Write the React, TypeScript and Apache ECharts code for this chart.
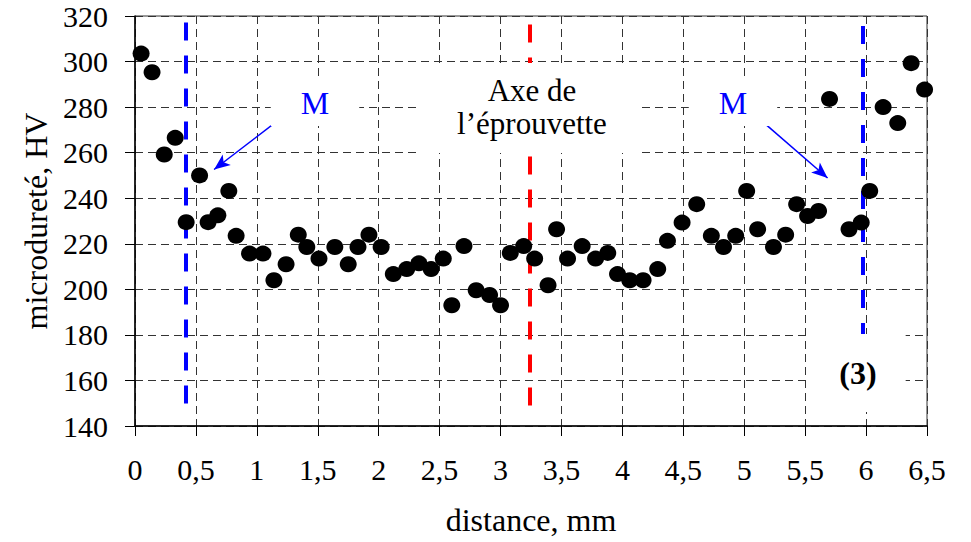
import React, { useEffect, useRef } from "react";
import * as echarts from "echarts";

// distance (mm) of each indentation
const distance = [
  0.05, 0.14, 0.24, 0.33, 0.42, 0.53, 0.6, 0.68, 0.77, 0.83, 0.94, 1.05, 1.14,
  1.24, 1.34, 1.41, 1.51, 1.64, 1.75, 1.83, 1.92, 2.02, 2.12, 2.23, 2.33, 2.43,
  2.53, 2.6, 2.7, 2.8, 2.91, 3.0, 3.08, 3.19, 3.28, 3.39, 3.46, 3.55, 3.67, 3.78,
  3.88, 3.96, 4.06, 4.17, 4.29, 4.37, 4.49, 4.61, 4.73, 4.83, 4.93, 5.02, 5.11,
  5.24, 5.34, 5.43, 5.52, 5.61, 5.7, 5.86, 5.96, 6.03, 6.14, 6.26, 6.37, 6.48,
];
// microhardness (HV)
const hardness = [
  303.5, 295.3, 259.2, 266.5, 229.5, 250, 229.5, 232.5, 243.2, 223.5, 215.7,
  215.7, 204, 211, 224, 218.6, 213.5, 218.6, 211, 218.6, 224, 218.6, 206.7,
  208.9, 211.4, 208.9, 213.5, 193, 219, 199.6, 197.5, 193, 216, 219, 213.5,
  201.8, 226.4, 213.5, 219, 213.5, 216, 206.7, 204, 204, 208.9, 221.3, 229.3,
  237.4, 223.5, 218.6, 223.5, 243.2, 226.4, 218.6, 224, 237.4, 232.2, 234.4,
  283.6, 226.4, 229.3, 243.2, 280, 273, 299.3, 287.7,
];

// annotation positions (data units)
const mLeft = 0.42;
const specimenAxis = 3.24;
const mRight = 5.97;
const dashBottom = 143.5;
const arrowLeft = [[1.207, 275.5], [0.649, 252.6]];
const arrowRight = [[5.186, 272], [5.684, 248.9]];

const FONT = "Liberation Serif, Times New Roman, serif";

export default function App() {
  const ref = useRef<HTMLDivElement>(null);
  useEffect(() => {
    const chart = echarts.init(ref.current!, null, { renderer: "svg" });
    const data = distance.map((d, i) => [d, hardness[i]]);
    const vLine = (x: number, color: string, top: number) => [
      {
        coord: [x, top],
        symbol: "none",
        lineStyle: { color, width: 4, type: [18, 15] },
      },
      { coord: [x, dashBottom], symbol: "none" },
    ];
    const arrow = (pts: number[][]) => [
      {
        coord: pts[0],
        symbol: "none",
        lineStyle: { color: "#0000ff", width: 1.5, type: "solid" },
      },
      { coord: pts[1], symbol: "arrow", symbolSize: [10, 16] },
    ];
    const tickStyle = { fontFamily: FONT, fontSize: 30, color: "#000" };
    const nameStyle = { fontFamily: FONT, fontSize: 32, color: "#000" };
    const txt = (
      text: string,
      x: number,
      y: number,
      font: string,
      fill: string,
      padding?: number[]
    ) => ({
      type: "text",
      z: 100,
      style: {
        text,
        x,
        y,
        align: "center",
        verticalAlign: "middle",
        font,
        fill,
        ...(padding ? { backgroundColor: "#fff", padding } : {}),
      },
    });
    chart.setOption({
      animation: false,
      grid: {
        left: 135,
        right: 44,
        top: 16,
        bottom: 116,
        show: true,
        borderColor: "#333",
        borderWidth: 1,
      },
      xAxis: {
        type: "value",
        min: 0,
        max: 6.5,
        interval: 0.5,
        name: "distance, mm",
        nameLocation: "middle",
        nameGap: 78,
        nameTextStyle: nameStyle,
        axisLine: { onZero: false, lineStyle: { color: "#000", width: 1.5 } },
        axisTick: { show: true, length: 10, lineStyle: { color: "#000" } },
        axisLabel: {
          ...tickStyle,
          margin: 28,
          formatter: (v: number) => String(v).replace(".", ","),
        },
        splitLine: {
          show: true,
          lineStyle: { type: [8, 5], color: "#333", width: 1 },
        },
      },
      yAxis: {
        type: "value",
        min: 140,
        max: 320,
        interval: 20,
        name: "microdureté, HV",
        nameLocation: "middle",
        nameGap: 82,
        nameTextStyle: nameStyle,
        axisLine: { onZero: false, lineStyle: { color: "#000", width: 1.5 } },
        axisTick: { show: true, length: 10, lineStyle: { color: "#000" } },
        axisLabel: { ...tickStyle, margin: 27 },
        splitLine: {
          show: true,
          lineStyle: { type: [8, 5], color: "#333", width: 1 },
        },
      },
      series: [
        {
          type: "scatter",
          data,
          symbol: "circle",
          symbolSize: [17, 16],
          itemStyle: { color: "#000", opacity: 1 },
          z: 5,
          markLine: {
            silent: true,
            symbol: ["none", "arrow"],
            label: { show: false },
            emphasis: { disabled: true },
            data: [
              vLine(mLeft, "#0000ff", 317.2),
              vLine(specimenAxis, "#ff0000", 316.3),
              vLine(mRight, "#0000ff", 315.6),
              arrow(arrowLeft),
              arrow(arrowRight),
            ],
          },
        },
      ],
      graphic: [
        {
          type: "rect",
          z: 99,
          shape: { x: 420, y: 63, width: 222, height: 90 },
          style: { fill: "#fff" },
        },
        txt("M", 315, 103, `32px ${FONT}`, "#0000ff", [7, 30]),
        txt("M", 733, 103, `32px ${FONT}`, "#0000ff", [7, 30]),
        txt("Axe de", 532, 90, `31px ${FONT}`, "#000"),
        txt("l’éprouvette", 532, 123, `31px ${FONT}`, "#000"),
        txt("(3)", 858, 373, `bold 32px ${FONT}`, "#000", [23, 29]),
      ],
    });
    return () => chart.dispose();
  }, []);
  return (
    <div
      ref={ref}
      style={{ position: "absolute", left: 0, top: 0, width: 971, height: 542 }}
    />
  );
}
